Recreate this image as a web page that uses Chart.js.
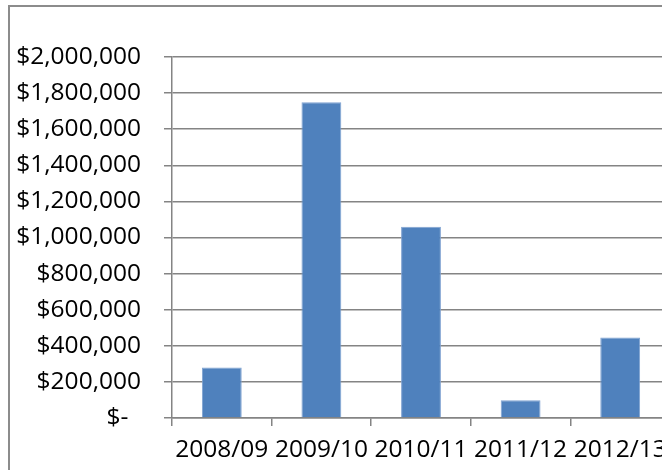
<!DOCTYPE html>
<html>
<head>
<meta charset="utf-8">
<script src="https://cdn.jsdelivr.net/npm/chart.js@4"></script>
<style>
  html, body { margin: 0; padding: 0; overflow: hidden; background: #fff; }
  #frame { position: absolute; left: 8px; top: 5px; width: 800px; height: 800px;
           border-left: 2px solid #8c8c8c; border-top: 2px solid #8c8c8c; }
  #wrap { position: absolute; left: 0; top: 0; }
</style>
</head>
<body>
<div id="frame"></div>
<div id="wrap"><canvas id="funding" width="720" height="500"></canvas></div>
<script>
// financial years and totals
var annees = ["2008/09", "2009/10", "2010/11", "2011/12", "2012/13"];
var montants = [280000, 1750000, 1060000, 98000, 446000];
var yMin = 0, yMax = 2000000, yPas = 200000;

var gris = "#848484";

function formatDollar(v) {
    if (v === 0) return "$-  ";
    return "$" + v.toLocaleString("en-US");
}

Chart.defaults.font.family = "'Open Sans', sans-serif";
Chart.defaults.font.size = 24.5;
Chart.defaults.color = "#000";

var ctx = document.getElementById("funding");
var monGraph = new Chart(ctx, {
    type: 'bar',
    data: {
        labels: annees,
        datasets: [{
            data: montants,
            backgroundColor: "#4f81bd",
            borderColor: "#7fa2d1",
            borderWidth: 1,
            barPercentage: 0.4,
            categoryPercentage: 1
        }]
    },
    options: {
        responsive: false,
        animation: false,
        layout: { padding: { top: 57, right: 50, left: 0, bottom: 0 } },
        plugins: { legend: { display: false }, tooltip: { enabled: false } },
        scales: {
            x: {
                grid: { drawOnChartArea: false, drawTicks: true, tickLength: 8, color: gris, lineWidth: 1.5, offset: true },
                border: { color: gris, width: 1.5 },
                ticks: { padding: 9, maxRotation: 0, autoSkip: false },
                afterFit: function (scale) { scale.height = 82; }
            },
            y: {
                min: yMin,
                max: yMax,
                grid: { color: gris, lineWidth: 1.5, tickLength: 8 },
                border: { color: gris, width: 1.5 },
                ticks: { stepSize: yPas, padding: 23, callback: formatDollar },
                afterFit: function (scale) { scale.width = 172; }
            }
        }
    }
});
</script>
</body>
</html>
